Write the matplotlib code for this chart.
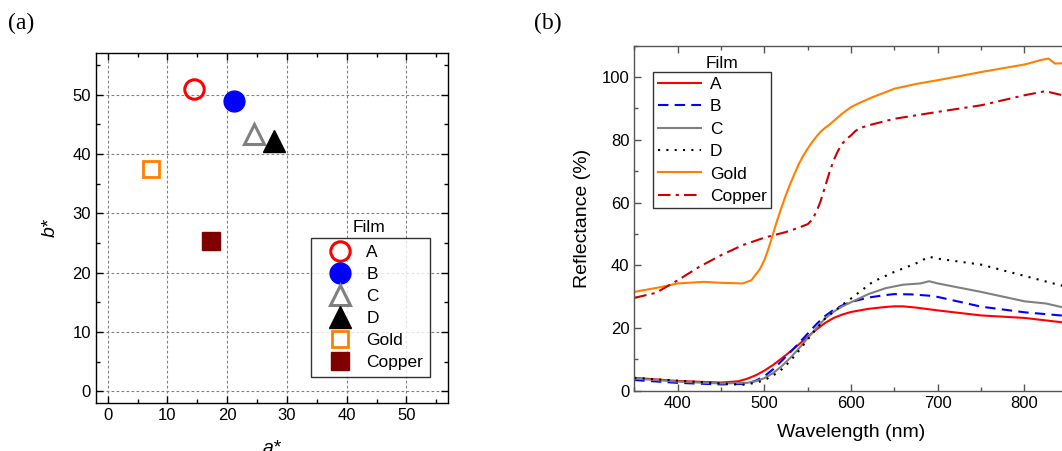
import matplotlib
matplotlib.use("Agg")
import matplotlib.pyplot as plt
from matplotlib.ticker import MultipleLocator

plt.rcParams['font.family'] = ['Liberation Sans', 'DejaVu Sans']

# ---------------- data: panel (a) ----------------
films = ["A", "B", "C", "D", "Gold", "Copper"]
a_star = [14.5, 21.2, 24.5, 27.9, 7.2, 17.3]
b_star = [51.0, 48.9, 43.4, 42.1, 37.4, 25.3]

# ---------------- data: panel (b) ----------------
wl_A = [350, 400, 450, 470, 480, 490, 500, 510, 520, 530, 540, 550, 560, 570, 580, 590, 600,
        620, 640, 650, 660, 675, 700, 750, 800, 825, 850]
R_A = [4.1, 3.1, 2.6, 3.0, 3.8, 4.9, 6.4, 8.2, 10.3, 12.5, 14.8, 17.2, 19.5, 21.6, 23.2, 24.3, 25.1,
       26.1, 26.7, 26.9, 26.9, 26.5, 25.6, 24.0, 23.2, 22.4, 21.6]

wl_B = [350, 400, 450, 480, 490, 500, 510, 520, 530, 540, 550, 560, 570, 580, 590, 600, 620, 640,
        650, 670, 690, 700, 750, 800, 850]
R_B = [3.4, 2.5, 2.0, 2.2, 3.2, 4.6, 6.8, 9.5, 12.3, 15.2, 18.2, 21.2, 23.8, 25.8, 27.2, 28.3, 29.7,
       30.5, 30.8, 30.7, 30.3, 29.9, 26.8, 25.0, 23.8]

wl_C = [350, 400, 450, 480, 490, 500, 510, 520, 530, 540, 550, 560, 570, 580, 590, 600, 620, 640,
        660, 680, 690, 700, 750, 800, 825, 850]
R_C = [3.9, 2.9, 2.3, 2.5, 3.0, 4.0, 5.6, 7.8, 10.5, 13.5, 16.8, 20.0, 23.0, 25.2, 26.9, 28.2, 30.8,
       32.7, 33.8, 34.2, 34.9, 34.2, 31.5, 28.5, 27.8, 26.2]

wl_D = [350, 400, 450, 475, 490, 500, 510, 520, 530, 540, 550, 560, 570, 580, 590, 600, 625, 650,
        675, 690, 700, 750, 800, 850]
R_D = [4.1, 3.2, 2.3, 1.9, 2.5, 3.4, 4.8, 6.8, 9.5, 12.8, 16.3, 19.8, 23.0, 25.2, 27.4, 29.4, 34.7,
       37.9, 40.6, 42.7, 42.1, 40.2, 36.6, 33.0]

wl_Gold = [350, 380, 400, 430, 450, 475, 485, 490, 495, 500, 505, 510, 515, 520, 525, 530, 535,
           540, 545, 550, 555, 560, 565, 570, 575, 580, 590, 600, 610, 625, 640, 650, 675, 700,
           750, 800, 820, 828, 835, 850]
R_Gold = [31.5, 33.0, 34.2, 34.7, 34.4, 34.2, 35.2, 37.0, 38.8, 41.6, 45.5, 50.0, 54.5, 58.6,
          62.5, 66.0, 69.3, 72.4, 75.0, 77.2, 79.2, 81.0, 82.6, 83.8, 84.8, 86.0, 88.4, 90.4,
          91.8, 93.6, 95.2, 96.3, 97.8, 99.0, 101.6, 104.0, 105.5, 105.9, 104.3, 104.5]

wl_Copper = [350, 375, 400, 425, 450, 475, 500, 525, 540, 550, 555, 560, 565, 570, 575, 580,
             585, 590, 595, 600, 605, 610, 620, 650, 700, 750, 800, 824, 850]
R_Copper = [29.6, 31.2, 35.2, 39.5, 43.2, 46.4, 48.8, 50.6, 52.0, 53.1, 54.5, 57.0, 60.5, 65.0,
            69.5, 73.5, 76.5, 78.8, 80.3, 81.4, 82.8, 83.7, 84.6, 86.7, 88.9, 91.0, 94.2, 95.5,
            93.8]

# ---------------- figure ----------------
fig = plt.figure(figsize=(10.62, 4.51), dpi=100)

W, H = 1062.0, 451.0
axA = fig.add_axes([95.7 / W, (H - 403.3) / H, (448.3 - 95.7) / W, (403.3 - 53.0) / H])
axB = fig.add_axes([634.3 / W, (H - 390.7) / H, (1067.8 - 634.3) / W, (390.7 - 45.7) / H])

# ---- panel (a) ----
styles = [
    dict(marker='o', mfc='none', mec='#FF0000', ms=14, mew=2.2),
    dict(marker='o', mfc='#0000FF', mec='#0000FF', ms=15, mew=1),
    dict(marker='^', mfc='none', mec='#808080', ms=15, mew=2.2),
    dict(marker='^', mfc='#000000', mec='#000000', ms=16, mew=1),
    dict(marker='s', mfc='none', mec='#FF8000', ms=12, mew=2.0),
    dict(marker='s', mfc='#800000', mec='#800000', ms=12.5, mew=1),
]
handlesA = []
for x, y, name, st in zip(a_star, b_star, films, styles):
    h, = axA.plot([x], [y], linestyle='none', label=name, **st)
    handlesA.append(h)

axA.set_xlim(-2, 57)
axA.set_ylim(-2, 57)
axA.xaxis.set_major_locator(MultipleLocator(10))
axA.yaxis.set_major_locator(MultipleLocator(10))
axA.xaxis.set_minor_locator(MultipleLocator(5))
axA.yaxis.set_minor_locator(MultipleLocator(5))
axA.grid(True, which='major', color='#808080', linestyle=(0, (2.5, 2)), linewidth=0.8)
axA.set_axisbelow(True)
axA.tick_params(which='both', direction='in', top=True, right=True, labelsize=12, color='black')
axA.tick_params(which='major', length=5, width=1)
axA.tick_params(which='minor', length=3, width=1)
for s in axA.spines.values():
    s.set_linewidth(1.0)
axA.set_xlabel('a*', fontsize=14, style='italic', labelpad=12)
axA.set_ylabel('b*', fontsize=14, style='italic', labelpad=10)

legA = axA.legend(handles=handlesA, loc='lower left',
                  bbox_to_anchor=((310.7 - 95.7) / (448.3 - 95.7), (403.3 - 377.3) / (403.3 - 53.0)),
                  frameon=True, fancybox=False, edgecolor='black', fontsize=12.5,
                  handletextpad=0.2, labelspacing=0.4, borderpad=0.4, borderaxespad=0,
                  handlelength=2.6, numpoints=1)
legA.get_frame().set_linewidth(1.0)
axA.text((369.3 - 95.7) / (448.3 - 95.7), (403.3 - 228) / (403.3 - 53.0), 'Film',
         transform=axA.transAxes, ha='center', va='center', fontsize=12.5)

# ---- panel (b) ----
spine_col = '#555555'
axB.plot(wl_A, R_A, color='#FF0000', lw=1.5, label='A')
axB.plot(wl_B, R_B, color='#0000FF', lw=1.5, linestyle=(0, (5, 3)), label='B')
axB.plot(wl_C, R_C, color='#808080', lw=1.5, label='C')
axB.plot(wl_D, R_D, color='#000000', lw=1.5, linestyle=(0, (1, 3)), label='D')
axB.plot(wl_Gold, R_Gold, color='#FF8000', lw=1.5, label='Gold')
axB.plot(wl_Copper, R_Copper, color='#CC0000', lw=1.5, linestyle=(0, (6, 2.5, 1.5, 2.5)), label='Copper')

axB.set_xlim(350, 850)
axB.set_ylim(0, 110)
axB.xaxis.set_major_locator(MultipleLocator(100))
axB.xaxis.set_minor_locator(MultipleLocator(50))
axB.yaxis.set_major_locator(MultipleLocator(20))
axB.yaxis.set_minor_locator(MultipleLocator(10))
axB.tick_params(which='both', direction='in', top=True, right=False, labelsize=12, color=spine_col)
axB.tick_params(which='major', length=5, width=1)
axB.tick_params(which='minor', length=3, width=1)
for s in axB.spines.values():
    s.set_linewidth(1.0)
    s.set_color(spine_col)
axB.set_xlabel('Wavelength (nm)', fontsize=14, labelpad=10)
axB.set_ylabel('Reflectance (%)', fontsize=14, labelpad=8)

legB = axB.legend(loc='upper left',
                  bbox_to_anchor=((653.3 - 634.3) / (1067.8 - 634.3), (390.7 - 72.3) / (390.7 - 45.7)),
                  frameon=True, fancybox=False, edgecolor='black', fontsize=12.5,
                  handletextpad=0.5, labelspacing=0.42, borderpad=0.25, borderaxespad=0,
                  handlelength=2.5)
legB.get_frame().set_linewidth(1.0)
axB.text((722 - 634.3) / (1067.8 - 634.3), (390.7 - 63.3) / (390.7 - 45.7), 'Film',
         transform=axB.transAxes, ha='center', va='center', fontsize=12.5)

# panel labels
fig.text(8 / W, 1 - 23 / H, '(a)', fontsize=17, family='Liberation Serif', ha='left', va='center')
fig.text(534 / W, 1 - 23 / H, '(b)', fontsize=17, family='Liberation Serif', ha='left', va='center')

fig.savefig('out.png', dpi=100)
